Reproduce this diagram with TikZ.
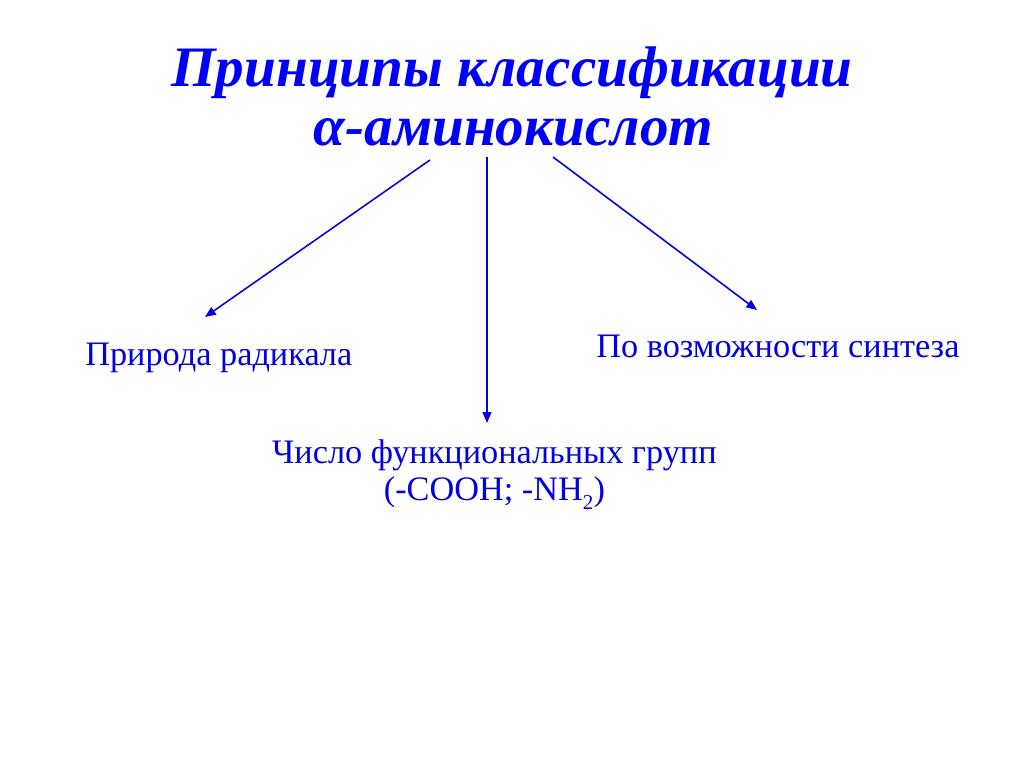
\documentclass[tikz,border=0pt]{standalone}
\usepackage{fontspec}
\setmainfont{Liberation Serif}
\usetikzlibrary{arrows.meta}
\definecolor{titleblue}{RGB}{0,0,250}
\definecolor{labelblue}{RGB}{0,0,225}
\tikzset{heading/.style={anchor=base,inner sep=0pt,text=titleblue,font=\fontsize{40.7}{44}\selectfont\bfseries\itshape},
         label/.style={anchor=base west,inner sep=0pt,text=labelblue,font=\fontsize{24.4}{26}\selectfont},
         flow/.style={draw=labelblue,line width=1.1pt,-{Triangle[length=2.7mm,width=2.2mm]}},
        }

\begin{document}
\begin{tikzpicture}
        \useasboundingbox (0,0) rectangle (25.6,-19.175);
        \node[heading](title)at(12.8,-2.175){Принципы классификации};
        \node[heading](titleb)at(12.84,-3.65){α-аминокислот};

        \node[label](radical)at(2.125,-9.15){Природа радикала};
        \node[label](synth)at(14.9,-8.95){По возможности синтеза};
        \node[label,anchor=base](func)at(12.36,-11.575){Число функциональных групп};
        \node[label,anchor=base](funcb)at(12.36,-12.5){(-COOH; -NH\raisebox{-7pt}{\fontsize{15}{15}\selectfont 2})};

        \coordinate(s1)at(10.75,-4.0);
        \coordinate(s2)at(12.175,-3.925);
        \coordinate(s3)at(13.825,-3.925);
        \coordinate(e1)at(5.125,-7.925);
        \coordinate(e2)at(12.175,-10.575);
        \coordinate(e3)at(18.925,-7.75);

        \draw[flow](s1)--(e1);
        \draw[flow](s2)--(e2);
        \draw[flow](s3)--(e3);
    \end{tikzpicture}
\end{document}
